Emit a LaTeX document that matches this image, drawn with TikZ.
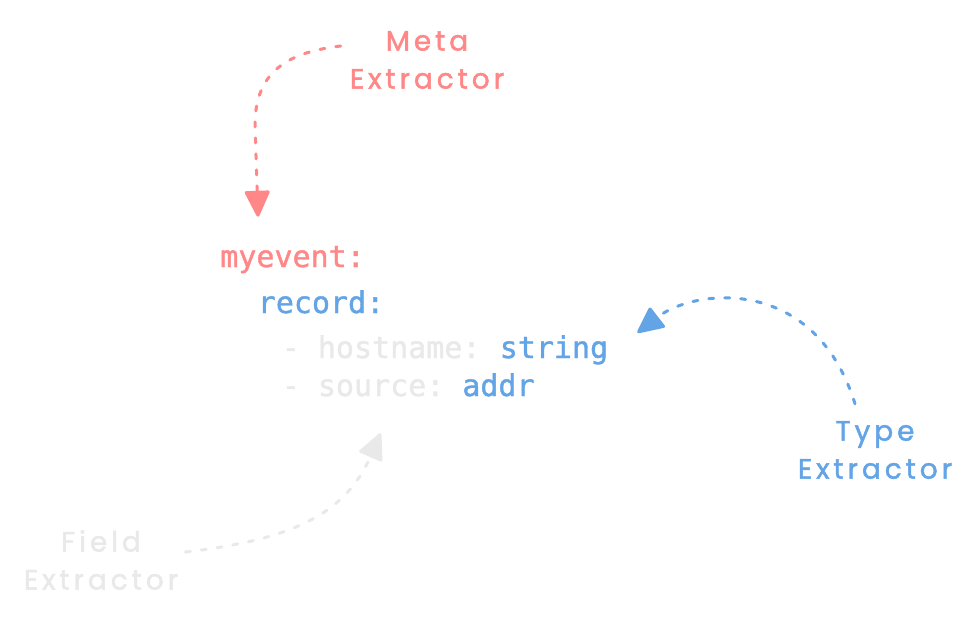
\documentclass[tikz,border=0pt]{standalone}
\usepackage{fontspec}
\usetikzlibrary{arrows.meta}
\newfontfamily\codefont[FakeBold=1.2]{DejaVu Sans Mono}
\newfontfamily\handfont[LetterSpace=14,FakeBold=1.6]{Poppins}
\definecolor{metared}{HTML}{FF8787}
\definecolor{typeblue}{HTML}{63A4E6}
\definecolor{fieldgrey}{HTML}{E9E9E9}

\begin{document}
\begin{tikzpicture}[
      x = 1pt, y = -1pt,
      > = {Triangle[round, length=28pt, width=26pt]},
      semithick]
      \tikzstyle{code}=[
      font = \codefont\fontsize{30}{36}\selectfont,
      inner sep = 0pt,
      text height = 22pt,
      text depth = 6pt,
      anchor = base west]
      \tikzstyle{extractor}=[
      font = \handfont\fontsize{28}{38}\selectfont,
      align = center,
      text width = 170pt,
      inner sep = 0pt]
      \tikzstyle{pointer}=[
      ->,
      line width = 3pt,
      line cap = round,
      dash pattern = on 5pt off 11pt]

      \fill[white] (0,0) rectangle (975,622);
      \useasboundingbox (0,0) rectangle (975,622);

      % the yaml snippet
      \node[code, text=metared] (myevent) at (220,267) {myevent:};
      \node[code, text=typeblue] (record) at (257.5,313) {record:};
      \node[code, text=fieldgrey] (hostkey) at (281.5,358) {- hostname:};
      \node[code, text=typeblue] (hosttype) at (499.5,358) {string};
      \node[code, text=fieldgrey] (srckey) at (281.5,396) {- source:};
      \node[code, text=typeblue] (srctype) at (462,396) {addr};

      % extractors
      \node[extractor, text=metared] (metalbl) at (427,60) {Meta\\Extractor};
      \node[extractor, text=typeblue] (typelbl) at (875,450) {Type\\Extractor};
      \node[extractor, text=fieldgrey] (fieldlbl) at (101,560) {Field\\Extractor};

      \draw[pointer, metared] ([shift={(-1pt,14pt)}]metalbl.west)
            .. controls (290,52) and (255,70) .. (255,125)
            -- ([shift={(38pt,28pt)}]myevent.north west);
      \draw[pointer, typeblue] ([shift={(-20pt,17pt)}]typelbl.north)
            .. controls (815,275) and (695,288) .. ([shift={(29pt,3pt)}]hosttype.north east);
      \draw[pointer, fieldgrey] ([shift={(-1pt,8pt)}]fieldlbl.east)
            .. controls (290,540) and (345,515) .. ([shift={(17.5pt,-31pt)}]srckey.south);
\end{tikzpicture}
\end{document}
